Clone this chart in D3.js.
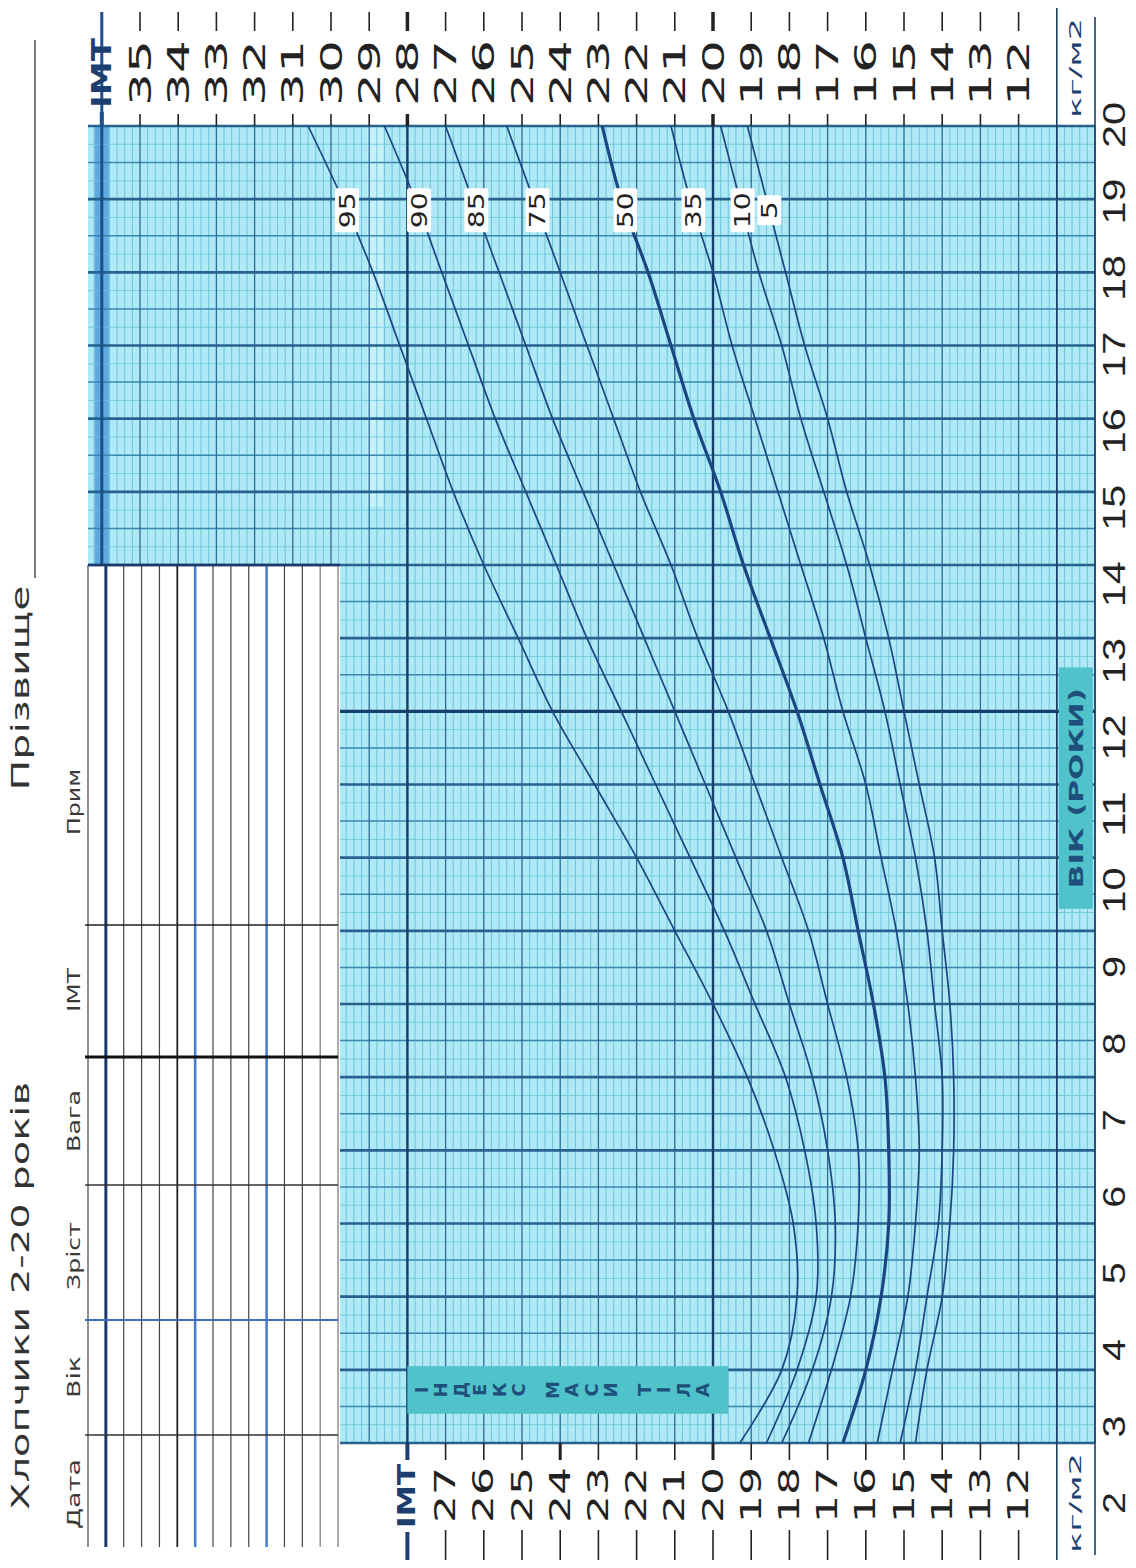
<!DOCTYPE html>
<html><head><meta charset="utf-8">
<script src="https://cdn.jsdelivr.net/npm/d3@7"></script>
<style>html,body{margin:0;padding:0;background:#fff;} svg{display:block;}</style>
</head><body><svg id="chart" width="1136" height="1568"></svg>
<script>
// ---------- DATA ----------
const ages = [2,3,4,5,6,7,8,9,10,11,12,13,14,15,16,17,18,19,20];
const p95 = [19.3,18.2,17.8,17.9,18.4,19.1,20.0,21.0,22.0,23.1,24.2,25.1,26.0,26.8,27.5,28.2,28.9,29.7,30.6];
const p90 = [18.6,17.8,17.3,17.3,17.6,18.1,18.9,19.7,20.6,21.5,22.4,23.3,24.1,24.9,25.7,26.4,27.1,27.8,28.6];
const p85 = [18.2,17.4,16.9,16.8,17.0,17.4,18.0,18.6,19.4,20.2,21.0,21.8,22.6,23.4,24.2,24.9,25.6,26.3,27.0];
const p75 = [17.5,16.9,16.4,16.2,16.2,16.5,17.0,17.5,18.2,18.9,19.6,20.4,21.1,21.9,22.6,23.3,24.0,24.7,25.4];
const p50 = [16.6,16.0,15.6,15.4,15.4,15.5,15.8,16.2,16.6,17.2,17.8,18.5,19.2,19.8,20.5,21.1,21.7,22.4,22.9];
const p35 = [15.7,15.3,14.9,14.7,14.6,14.7,14.9,15.2,15.6,16.0,16.6,17.1,17.7,18.3,18.9,19.5,20.0,20.6,21.1];
const p10 = [15.1,14.7,14.4,14.1,14.0,14.0,14.2,14.4,14.7,15.1,15.5,16.0,16.5,17.1,17.7,18.2,18.8,19.3,19.8];
const p5  = [14.7,14.4,14.0,13.8,13.7,13.7,13.8,14.0,14.2,14.6,15.0,15.4,15.9,16.5,17.0,17.6,18.1,18.6,19.1];
const percentileNames = ["95","90","85","75","50","35","10","5"];
const bmiTopTicks = [35,34,33,32,31,30,29,28,27,26,25,24,23,22,21,20,19,18,17,16,15,14,13,12];
const bmiBottomTicks = [27,26,25,24,23,22,21,20,19,18,17,16,15,14,13,12];
const ageTicks = [2,3,4,5,6,7,8,9,10,11,12,13,14,15,16,17,18,19,20];
const tableHeaders = ["Дата","Вік","Зріст","Вага","ІМТ","Прим"];
const titleText = "Хлопчики 2-20 років";
const surnameText = "Прізвище";
const bmiTitle = "ІНДЕКС МАСИ ТІЛА";
const ageTitle = "ВІК (РОКИ)";
const unitText = "кг/м2";
const bmiName = "ІМТ";

// ---------- SETUP ----------
const svg = d3.select("#chart");
const ageY = d3.scaleLinear().domain([2,20]).range([1443,126]);
const ageLabelY = d3.scaleLinear().domain([2,20]).range([1503,125]);
const bmiX = d3.scaleLinear().domain([12,35]).range([1018.6,140]);
const X_LEFT_UP = 88, X_LEFT_LOW = 340, X_RIGHT = bmiX(10);
const BG = "#aee9f5";
const FONT = "DejaVu Sans, Liberation Sans, sans-serif";

function vtext(sel, x, y, str, o) {
  const t = sel.append("text")
    .attr("transform", `translate(${x},${y}) rotate(-90)`)
    .attr("text-anchor", "middle")
    .attr("dominant-baseline", "central")
    .attr("font-family", o.font || FONT)
    .attr("font-size", o.size)
    .attr("fill", o.fill || "#222")
    .attr("font-weight", o.weight || "normal")
    .text(str);
  if (o.len) t.attr("textLength", o.len).attr("lengthAdjust", "spacingAndGlyphs");
  return t;
}
function seg(sel, x1, y1, x2, y2, stroke, w) {
  sel.append("line").attr("x1",x1).attr("y1",y1).attr("x2",x2).attr("y2",y2)
    .attr("stroke",stroke).attr("stroke-width",w);
}

// ---------- GRID ----------
const grid = svg.append("g");
grid.append("rect").attr("x",X_LEFT_UP).attr("y",ageY(20)).attr("width",X_RIGHT-X_LEFT_UP)
  .attr("height",ageY(14)-ageY(20)).attr("fill",BG);
grid.append("rect").attr("x",X_LEFT_LOW).attr("y",ageY(14)).attr("width",X_RIGHT-X_LEFT_LOW)
  .attr("height",ageY(2)-ageY(14)).attr("fill",BG);
grid.append("rect").attr("x",bmiX(29.05)).attr("y",ageY(20)).attr("width",16)
  .attr("height",ageY(14.8)-ageY(20)).attr("fill","#d2f4fb").attr("opacity",0.7);
grid.append("rect").attr("x",bmiX(36)-7).attr("y",ageY(20)).attr("width",14)
  .attr("height",ageY(14)-ageY(20)).attr("fill","#5ea9de");

const gThinV = grid.append("g"), gThinH = grid.append("g"), gMedH = grid.append("g"),
      gIntV = grid.append("g"), gThickH = grid.append("g"), gSpecV = grid.append("g");

for (let t = 100; t <= 364; t += 2) {
  const b = t / 10, x = bmiX(b);
  if (x < X_LEFT_UP - 0.5) continue;
  const isInt = t % 10 === 0;
  const target = isInt ? gIntV : gThinV;
  const col = isInt ? "#2a6e98" : "#5fbad4", w = isInt ? 1.3 : 0.8;
  seg(target, x, ageY(20), x, ageY(14), col, w);
  if (x >= X_LEFT_LOW - 0.5) seg(target, x, ageY(14), x, ageY(2), col, w);
}
for (let q = 0; q <= 72; q++) {
  const a = 2 + q / 4, y = ageY(a);
  const x1 = a >= 14 ? X_LEFT_UP : X_LEFT_LOW;
  if (q % 4 === 0) seg(gThickH, x1, y, X_RIGHT, y, a === 12 ? "#173f6c" : "#25628e", a === 12 ? 3.2 : 2.6);
  else if (q % 2 === 0) seg(gMedH, x1, y, X_RIGHT, y, "#3a86ad", 1.5);
  else seg(gThinH, x1, y, X_RIGHT, y, "#6cc4dc", 0.8);
}
[28, 20].forEach(b => {
  seg(gSpecV, bmiX(b), ageY(20), bmiX(b), ageY(2), "#173f6c", 2.4);
});
seg(gSpecV, bmiX(36), 12, bmiX(36), ageY(14), "#1d4f8c", 3);
seg(gSpecV, bmiX(11), 8, bmiX(11), 1560, "#1b3e66", 1.6);
seg(gSpecV, bmiX(10), 17, bmiX(10), 1555, "#1b3e66", 1.6);

// ---------- TABLE ----------
const table = svg.append("g");
const tableCols = d3.range(15).map(i => X_LEFT_UP + i * 17.86);
const colStyle = i => {
  if (i === 1) return ["#1a3a6a", 3];
  if (i === 5) return ["#222", 1.8];
  if (i === 6 || i === 10) return ["#4a7fd0", 2.6];
  if (i >= 13) return ["#777", 1.2];
  return ["#444", 1.2];
};
tableCols.forEach((x, i) => { const [c, w] = colStyle(i); seg(table, x, ageY(14), x, 1547, c, w); });
[[925,"#222",1.6],[1057,"#111",3],[1185,"#333",1.6],[1320,"#3d6fb8",2],[1435,"#333",1.6]]
  .forEach(([y,c,w]) => seg(table, 85, y, X_LEFT_LOW - 2, y, c, w));
seg(table, X_LEFT_UP, ageY(14), X_LEFT_LOW, ageY(14), "#1a3a6a", 2.6);

const headerPos = [[1494,70],[1377,42],[1256,68],[1121,62],[990,44],[802,66]];
tableHeaders.forEach((h, i) => vtext(table, 74, headerPos[i][0], h, {size:17, len:headerPos[i][1], fill:"#3a3a3a"}));

vtext(svg, 21, 1296, titleText, {size:24, len:428, fill:"#333"});
vtext(svg, 21, 688, surnameText, {size:24, len:205, fill:"#333"});
seg(svg, 35, 578, 35, 40, "#333", 1.3);

// ---------- AXES ----------
const ax = svg.append("g");
bmiTopTicks.forEach(b => {
  const x = bmiX(b), thick = (b === 28 || b === 20);
  seg(ax, x, 12, x, 31, "#222", thick ? 3.5 : 1.6);
  seg(ax, x, 114, x, ageY(20), "#222", thick ? 3.5 : 1.6);
  vtext(ax, x, 73, String(b), {size:30, len:66});
});
vtext(ax, bmiX(36), 73, bmiName, {size:26, len:70, weight:"bold", fill:"#1d3f70"});
seg(ax, bmiX(36), 112, bmiX(36), ageY(20), "#1d4f8c", 4);
bmiBottomTicks.forEach(b => {
  const x = bmiX(b), thick = (b === 20 || b === 24);
  seg(ax, x, ageY(2), x, 1460, "#222", thick ? 3 : 1.6);
  seg(ax, x, 1530, x, 1560, "#222", 1.6);
  vtext(ax, x, 1495, String(b), {size:28, len:56});
});
seg(ax, bmiX(28), ageY(2), bmiX(28), 1460, "#1d3f70", 4);
seg(ax, bmiX(28), 1532, bmiX(28), 1560, "#1d3f70", 4);
vtext(ax, bmiX(28), 1496, bmiName, {size:24, len:64, weight:"bold", fill:"#1d3f70"});
vtext(ax, (bmiX(11)+bmiX(10))/2, 68, unitText, {size:16, len:100, fill:"#1d3f70"});
vtext(ax, (bmiX(11)+bmiX(10))/2, 1503, unitText, {size:16, len:100, fill:"#1d3f70"});
ageTicks.forEach(a => {
  const s = String(a);
  vtext(ax, 1114, ageLabelY(a), s, {size:32, len: s.length === 1 ? 22 : 46, font:"Liberation Sans, Arial, sans-serif"});
});
const ageBoxTop = ageY(12.6), ageBoxBot = ageY(9.3);
ax.append("rect").attr("x", bmiX(11) + 2).attr("y", ageBoxTop).attr("width", 34)
  .attr("height", ageBoxBot - ageBoxTop).attr("fill", "#4fc2ca");
vtext(ax, bmiX(11) + 19, (ageBoxTop + ageBoxBot) / 2, ageTitle, {size:19, len:200, weight:"bold", fill:"#1f4f7b"});

const bx1 = bmiX(28), bx2 = bmiX(19.6), by1 = ageY(3.05), by2 = ageY(2.4);
ax.append("rect").attr("x", bx1).attr("y", by1).attr("width", bx2 - bx1).attr("height", by2 - by1).attr("fill", "#50c2ca");
let cx = bx1 + 14;
bmiTitle.split("").forEach(ch => {
  if (ch === " ") { cx += 14; return; }
  ax.append("text").attr("transform", `translate(${cx},${(by1+by2)/2}) rotate(-90)`)
    .attr("text-anchor","middle").attr("dominant-baseline","central")
    .attr("font-family", FONT).attr("font-size", 18).attr("font-weight","bold")
    .attr("fill","#1f4f7b").text(ch);
  cx += 19.5;
});

// ---------- CURVES ----------
const series = [p95, p90, p85, p75, p50, p35, p10, p5];
const line = d3.line().x(d => bmiX(d[1])).y(d => ageY(d[0])).curve(d3.curveCatmullRom.alpha(0.5));
const curves = svg.append("g");
series.forEach((vals, i) => {
  curves.append("path").attr("d", line(ages.map((a, j) => [a, vals[j]])))
    .attr("fill","none").attr("stroke","#1c4682")
    .attr("stroke-width", percentileNames[i] === "50" ? 3.2 : 1.7);
});
const labelAge = 18.85;
series.forEach((vals, i) => {
  const v = vals[16] + (vals[17] - vals[16]) * (labelAge - 18);
  const x = bmiX(v), y = ageY(labelAge);
  const name = percentileNames[i];
  const h = name.length === 1 ? 30 : 44;
  curves.append("rect").attr("x", x - 12).attr("y", y - h/2).attr("width", 24).attr("height", h)
    .attr("fill", "#fff").attr("rx", 2);
  vtext(curves, x, y, name, {size:22, len: name.length === 1 ? 18 : 36, fill:"#222"});
});
</script></body></html>
